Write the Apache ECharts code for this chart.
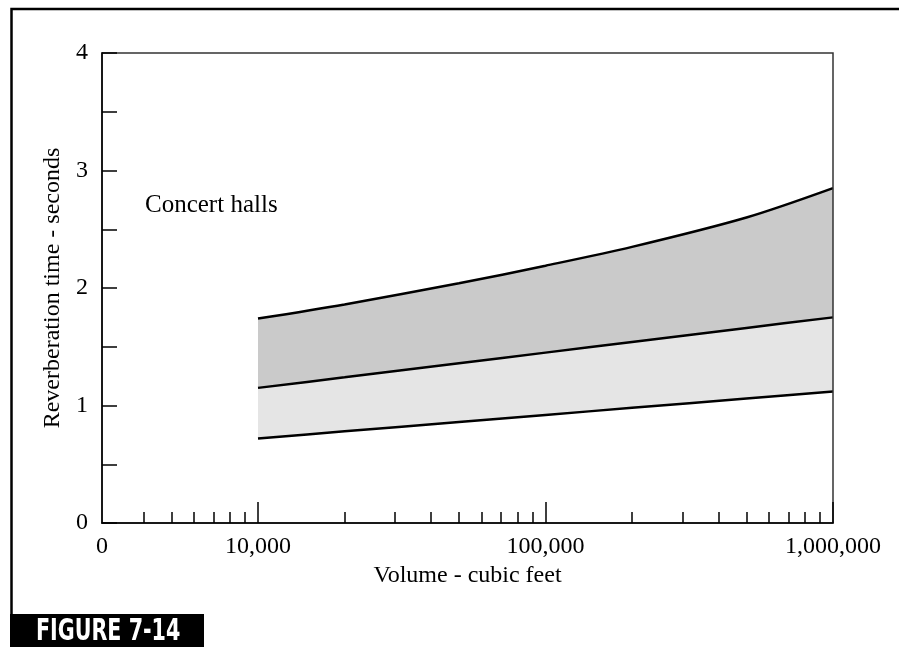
<!DOCTYPE html>
<html>
<head>
<meta charset="utf-8">
<script src="https://cdn.jsdelivr.net/npm/echarts@6/dist/echarts.min.js"></script>
<style>
html,body{margin:0;padding:0;background:#fff;}
#c{width:899px;height:647px;}
</style>
</head>
<body>
<div id="c"></div>
<script>
// ---- data ----
var volumes = [10000, 20000, 50000, 100000, 200000, 500000, 1000000];
var lowerLimit = [0.72, 0.78, 0.86, 0.92, 0.98, 1.06, 1.12];
var middleLine = [1.15, 1.24, 1.36, 1.45, 1.54, 1.66, 1.75];
var upperLimit = [1.74, 1.86, 2.04, 2.19, 2.35, 2.60, 2.85];
var xAxisStartVolume = 2866.6;  // where the broken axis begins (labelled "0")
var xMajorVolumes = [10000, 100000, 1000000];
var xMajorLabels = ['10,000', '100,000', '1,000,000'];
var xStartLabel = '0';
var xMinorVolumes = [4000,5000,6000,7000,8000,9000,
                     20000,30000,40000,50000,60000,70000,80000,90000,
                     200000,300000,400000,500000,600000,700000,800000,900000];
var yLabelValues = [0, 1, 2, 3, 4];
var yLabels = ['0', '1', '2', '3', '4'];
var xTitle = 'Volume - cubic feet';
var yTitle = 'Reverberation time - seconds';
var bandLabel = 'Concert halls';
var figureLabel = 'FIGURE 7-14';

// ---- build ----
var lg = function (v) { return Math.log10(v); };
var xMin = lg(xAxisStartVolume), xMax = 6;
var labelMap = {};
labelMap[xMin.toFixed(4)] = xStartLabel;
xMajorVolumes.forEach(function (v, i) { labelMap[lg(v).toFixed(4)] = xMajorLabels[i]; });
var yLabelMap = {};
yLabelValues.forEach(function (v, i) { yLabelMap[v] = yLabels[i]; });

function pairs(vals) { return volumes.map(function (v, i) { return [lg(v), vals[i]]; }); }

var FONT = '"Liberation Serif", "DejaVu Serif", serif';
var FS = 24;
var chart = echarts.init(document.getElementById('c'), null, {renderer: 'canvas'});
var lineStyle = {color: '#000', width: 2.5};

chart.setOption({
  animation: false,
  backgroundColor: '#fff',
  grid: {left: 102, right: 66, top: 53, bottom: 124, show: true, borderColor: '#333', borderWidth: 1.5, backgroundColor: 'transparent', z: 10},
  xAxis: [{
    type: 'value', min: xMin, max: xMax, position: 'bottom', z: 10,
    axisLine: {show: true, lineStyle: {color: '#000', width: 1.5}},
    splitLine: {show: false},
    axisTick: {show: true, inside: true, length: 21, customValues: xMajorVolumes.map(lg), lineStyle: {color: '#000', width: 1.5}},
    axisLabel: {
      customValues: [xMin].concat(xMajorVolumes.map(lg)),
      formatter: function (v) { return labelMap[(+v).toFixed(4)] || ''; },
      color: '#000', fontFamily: FONT, fontSize: FS, margin: 12, showMinLabel: true, showMaxLabel: true
    },
    name: xTitle, nameLocation: 'middle', nameGap: 40,
    nameTextStyle: {color: '#000', fontFamily: FONT, fontSize: FS}
  }, {
    type: 'value', min: xMin, max: xMax, position: 'bottom', z: 10,
    axisLine: {show: false}, splitLine: {show: false},
    axisTick: {show: true, inside: true, length: 11, customValues: xMinorVolumes.map(lg), lineStyle: {color: '#000', width: 1.5}},
    axisLabel: {show: false}
  }],
  yAxis: {
    type: 'value', min: 0, max: 4, interval: 0.5, z: 10,
    axisLine: {show: true, lineStyle: {color: '#000', width: 1.5}},
    splitLine: {show: false},
    axisTick: {show: true, inside: true, length: 15, lineStyle: {color: '#000', width: 1.5}},
    axisLabel: {
      customValues: yLabelValues,
      formatter: function (v) { return yLabelMap[v] !== undefined ? yLabelMap[v] : ''; },
      color: '#000', fontFamily: FONT, fontSize: FS, margin: 14
    },
    name: yTitle, nameLocation: 'middle', nameGap: 32,
    nameTextStyle: {color: '#000', fontFamily: FONT, fontSize: FS}
  },
  series: [{
    type: 'line', data: pairs(upperLimit), smooth: 0.3, symbol: 'none',
    lineStyle: lineStyle, areaStyle: {color: '#cacaca', opacity: 1}, z: 2
  }, {
    type: 'line', data: pairs(middleLine), smooth: 0.3, symbol: 'none',
    lineStyle: lineStyle, areaStyle: {color: '#e5e5e5', opacity: 1}, z: 3
  }, {
    type: 'line', data: pairs(lowerLimit), smooth: 0.3, symbol: 'none',
    lineStyle: lineStyle, areaStyle: {color: '#ffffff', opacity: 1}, z: 4
  }],
  graphic: [
    {type: 'polyline', shape: {points: [[11.5, 614], [11.5, 9], [899, 9]]}, style: {stroke: '#000', lineWidth: 2.5, fill: null}},
    {type: 'rect', shape: {x: 10, y: 614, width: 194, height: 33}, style: {fill: '#000'}},
    {type: 'text', x: 36, y: 616, scaleX: 0.74, style: {text: figureLabel, fill: '#fff', font: 'bold 31px "DejaVu Sans Condensed", "DejaVu Sans", sans-serif'}},
    {type: 'text', x: 145, y: 193, style: {text: bandLabel, fill: '#000', font: '25px ' + FONT}}
  ]
});
</script>
</body>
</html>
